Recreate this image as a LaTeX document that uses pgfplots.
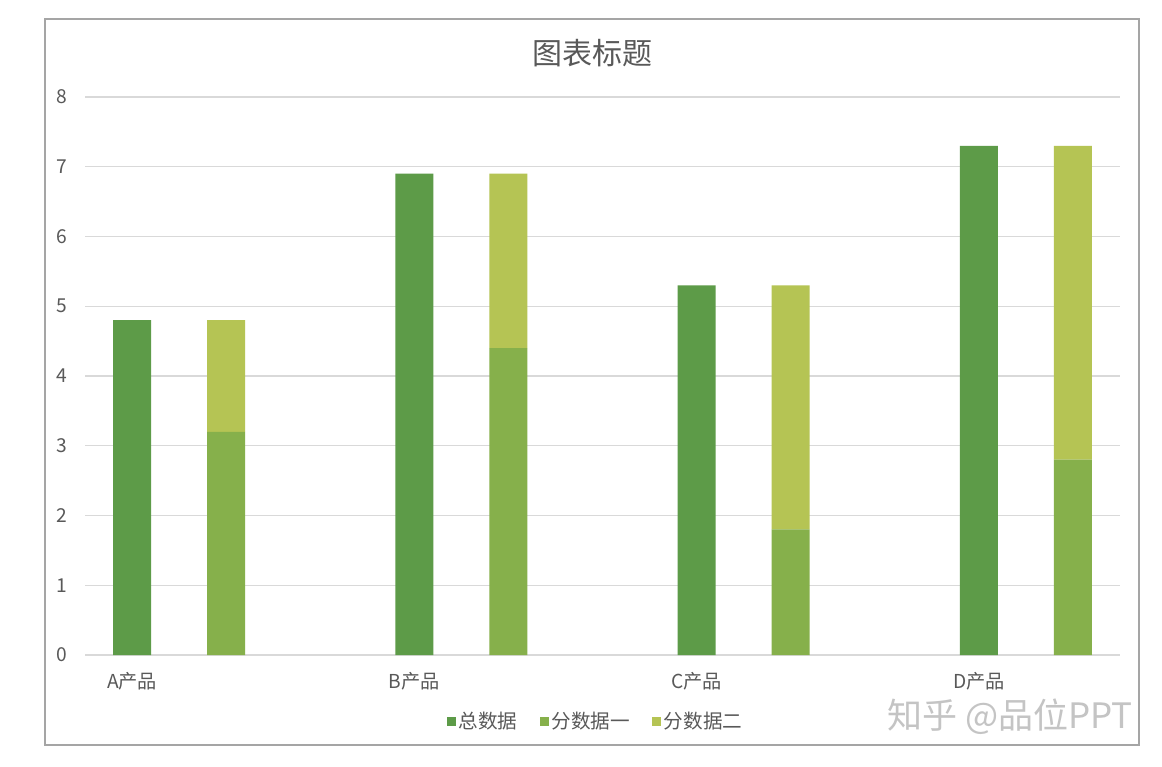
\documentclass[border=0pt]{standalone}
\usepackage{fontspec}
\setmainfont{Noto Sans CJK SC}
\usepackage{pgfplots}
\pgfplotsset{compat=1.18}
\definecolor{gA}{HTML}{5D9B48}
\definecolor{gB}{HTML}{86B04B}
\definecolor{gC}{HTML}{B5C454}
\definecolor{txt}{HTML}{595959}
\definecolor{grd}{HTML}{D9D9D9}
\definecolor{frm}{HTML}{A5A5A5}
\definecolor{wm}{HTML}{C4C4C4}
\begin{document}
\begin{tikzpicture}
\fill[white] (0pt,0pt) rectangle (581pt,383pt);
\draw[frm, line width=1pt] (22.5pt,10.5pt) rectangle (569.5pt,373.5pt);
\node[txt, font=\fontsize{15pt}{18pt}\selectfont] at (296pt,356.5pt) {图表标题};
\node[wm, font=\fontsize{17.5pt}{20pt}\selectfont] at (505pt,24.5pt) {知乎 @品位PPT};
\begin{axis}[
  at={(42.5pt,55.5pt)}, anchor=south west,
  scale only axis, width=517.5pt, height=279pt,
  ybar stacked, bar width=19pt,
  xmin=-0.5, xmax=10.5, ymin=0, ymax=8,
  xtick={0,3,6,9}, xticklabels={A产品,B产品,C产品,D产品},
  ytick={0,1,...,8},
  ymajorgrids, grid style={grd, line width=0.7pt},
  axis line style={draw=none}, major tick length=0pt,
  tick label style={txt, font=\fontsize{9.6pt}{11pt}\selectfont},
  /pgf/number format/assume math mode=true,
  yticklabel style={anchor=east, inner sep=0pt, xshift=-8.5pt},
  xticklabel style={anchor=center, inner sep=0pt, yshift=-13pt},
  legend style={at={(0.4928,-0.12)}, anchor=center, draw=none, fill=none,
    legend columns=-1, font=\fontsize{9.8pt}{11pt}\selectfont, text=txt,
    /tikz/every odd column/.append style={column sep=1pt},
    /tikz/every even column/.append style={column sep=10.5pt},
    nodes={inner xsep=0.5pt, inner ysep=1pt}},
  legend image code/.code={\fill[#1] (0pt,-2.25pt) rectangle (4.5pt,2.25pt);},
]
\addplot[fill=gA, draw=none] coordinates {(0,4.8) (1,0) (3,6.9) (4,0) (6,5.3) (7,0) (9,7.3) (10,0)};
\addplot[fill=gB, draw=none] coordinates {(0,0) (1,3.2) (3,0) (4,4.4) (6,0) (7,1.8) (9,0) (10,2.8)};
\addplot[fill=gC, draw=none] coordinates {(0,0) (1,1.6) (3,0) (4,2.5) (6,0) (7,3.5) (9,0) (10,4.5)};
\legend{总数据,分数据一,分数据二}
\end{axis}
\end{tikzpicture}
\end{document}
